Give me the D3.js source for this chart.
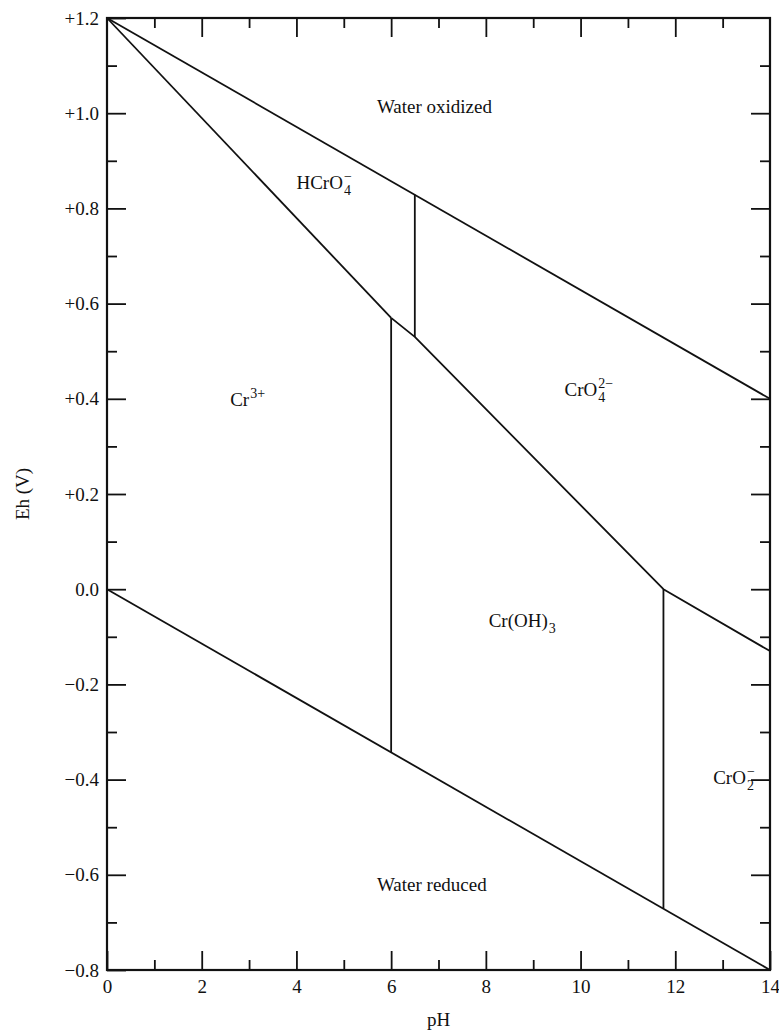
<!DOCTYPE html>
<html>
<head>
<meta charset="utf-8">
<script src="https://cdn.jsdelivr.net/npm/d3@7"></script>
<style>
  html, body { margin: 0; padding: 0; background: #fff; }
  svg { display: block; }
</style>
</head>
<body>
<svg id="chart" width="779" height="1036"></svg>
<script>
// ---------------- data ----------------
const phTicks = [0,1,2,3,4,5,6,7,8,9,10,11,12,13,14];
const phLabelTicks = [0,2,4,6,8,10,12,14];
const ehTicks = [1.2,1.1,1.0,0.9,0.8,0.7,0.6,0.5,0.4,0.3,0.2,0.1,0.0,-0.1,-0.2,-0.3,-0.4,-0.5,-0.6,-0.7,-0.8];
const ehLabelTicks = [1.2,1.0,0.8,0.6,0.4,0.2,0.0,-0.2,-0.4,-0.6,-0.8];
const ehLabelText = ["+1.2","+1.0","+0.8","+0.6","+0.4","+0.2","0.0","\u22120.2","\u22120.4","\u22120.6","\u22120.8"];

// boundary lines as [pH, Eh] points
const waterOxidizedLine = [[0, 1.2], [14, 0.4]];
const waterReducedLine  = [[0, 0.0], [14, -0.8]];
const chromiumUpperLine = [[0, 1.2], [6.0, 0.57]];
const chromiumMidLine   = [[6.0, 0.57], [6.5, 0.53], [11.75, 0.0], [14, -0.13]];
const cr3HydroxideLine  = [[6.0, 0.57], [6.0, -0.343]];
const hcro4Cro4Line     = [[6.5, 0.829], [6.5, 0.53]];
const hydroxideCro2Line = [[11.75, 0.0], [11.75, -0.671]];

// region labels: base text, subscript, superscript, pH, Eh
const speciesBase = ["Water oxidized", "HCrO", "Cr", "CrO", "Cr(OH)", "CrO", "Water reduced"];
const speciesSub  = ["", "4", "", "4", "3", "2", ""];
const speciesSup  = ["", "\u2212", "3+", "2\u2212", "", "\u2212", ""];
const speciesPH   = [5.7, 4.0, 2.6, 9.66, 8.06, 12.8, 5.7];
const speciesEh   = [1.0, 0.84, 0.385, 0.405, -0.08, -0.41, -0.635];

// ---------------- layout ----------------
const svg = d3.select("#chart");
const L = 107, R = 770, T = 18, B = 970;
const x = d3.scaleLinear().domain([0, 14]).range([L, R]);
const y = d3.scaleLinear().domain([-0.8, 1.2]).range([B, T]);
const FONT = "'Liberation Serif', 'Times New Roman', serif";
const INK = "#111";
const majorLen = 19, minorLen = 10;

const isMajorPH = d => phLabelTicks.includes(d);
const isMajorEh = d => ehLabelTicks.some(v => Math.abs(v - d) < 1e-9);

// bottom axis
const gB = svg.append("g").attr("transform", `translate(0,${B})`)
  .call(d3.axisBottom(x).tickValues(phTicks).tickSizeInner(-minorLen).tickSizeOuter(0).tickPadding(10)
    .tickFormat(d => isMajorPH(d) ? String(d) : ""));
gB.selectAll(".tick line").attr("y2", d => isMajorPH(d) ? -majorLen : -minorLen);

// top axis
const gT = svg.append("g").attr("transform", `translate(0,${T})`)
  .call(d3.axisTop(x).tickValues(phTicks.slice(1, -1)).tickSizeInner(-minorLen).tickSizeOuter(0).tickFormat(""));
gT.selectAll(".tick line").attr("y2", d => isMajorPH(d) ? majorLen : minorLen);

// left axis
const gL = svg.append("g").attr("transform", `translate(${L},0)`)
  .call(d3.axisLeft(y).tickValues(ehTicks).tickSizeInner(-minorLen).tickSizeOuter(0).tickPadding(8)
    .tickFormat(d => {
      const i = ehLabelTicks.findIndex(v => Math.abs(v - d) < 1e-9);
      return i >= 0 ? ehLabelText[i] : "";
    }));
gL.selectAll(".tick line").attr("x2", d => isMajorEh(d) ? majorLen : minorLen);

// right axis
const gR = svg.append("g").attr("transform", `translate(${R},0)`)
  .call(d3.axisRight(y).tickValues(ehTicks.slice(1, -1)).tickSizeInner(-minorLen).tickSizeOuter(0).tickFormat(""));
gR.selectAll(".tick line").attr("x2", d => isMajorEh(d) ? -majorLen : -minorLen);

[gB, gT, gL, gR].forEach(g => {
  g.select(".domain").remove();
  g.selectAll(".tick line").attr("stroke", INK).attr("stroke-width", 1.8);
  g.selectAll("text").attr("font-family", FONT).attr("font-size", 19).attr("fill", INK);
});

// frame
svg.append("rect").attr("x", L).attr("y", T).attr("width", R - L).attr("height", B - T)
  .attr("fill", "none").attr("stroke", INK).attr("stroke-width", 2.2);

// boundary lines
const line = d3.line().x(d => x(d[0])).y(d => y(d[1]));
const lines = [waterOxidizedLine, waterReducedLine, chromiumUpperLine, chromiumMidLine,
               cr3HydroxideLine, hcro4Cro4Line, hydroxideCro2Line];
svg.append("g").selectAll("path").data(lines).join("path")
  .attr("d", line).attr("fill", "none").attr("stroke", INK).attr("stroke-width", 1.8)
  .attr("stroke-linejoin", "round");

// species labels
const labelSize = 19;
speciesBase.forEach((base, i) => {
  const px = x(speciesPH[i]), py = y(speciesEh[i]);
  const t = svg.append("text").attr("x", px).attr("y", py)
    .attr("font-family", FONT).attr("font-size", labelSize).attr("fill", INK).text(base);
  const w = t.node().getComputedTextLength();
  if (speciesSub[i]) {
    svg.append("text").attr("x", px + w + 1).attr("y", py + 6)
      .attr("font-family", FONT).attr("font-size", 14).attr("fill", INK).text(speciesSub[i]);
  }
  if (speciesSup[i]) {
    svg.append("text").attr("x", px + w + 1).attr("y", py - 8)
      .attr("font-family", FONT).attr("font-size", 14).attr("fill", INK).text(speciesSup[i]);
  }
});

// axis titles
svg.append("text").attr("x", (L + R) / 2).attr("y", 1026).attr("text-anchor", "middle")
  .attr("font-family", FONT).attr("font-size", 19).attr("fill", INK).text("pH");
svg.append("text").attr("transform", `translate(29,${(T + B) / 2}) rotate(-90)`)
  .attr("text-anchor", "middle")
  .attr("font-family", FONT).attr("font-size", 19).attr("fill", INK).text("Eh (V)");
</script>
</body>
</html>
